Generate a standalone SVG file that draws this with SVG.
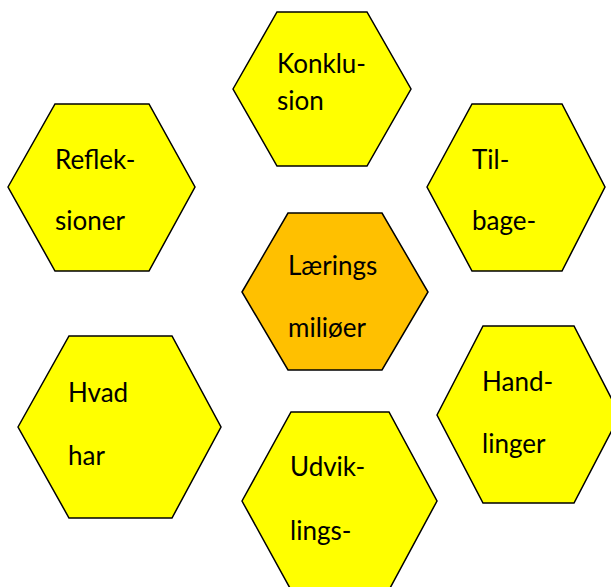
<svg xmlns="http://www.w3.org/2000/svg" width="611" height="587" viewBox="0 0 611 587">
<style>
.hex{stroke:#000;stroke-width:1.5;stroke-linejoin:miter}
.y{fill:#FFFF00}
.o{fill:#FFC000}
text{font-family:Lato,"Liberation Sans",sans-serif;font-size:26px;fill:#000}
</style>
<rect width="611" height="587" fill="#fff"/>
<g id="connectors"></g>
<g id="konklusion">
<polygon class="hex y" points="233,89 277,12 367,12 411,89 367,166 277,166"/>
<text x="277" y="73">Konklu-</text>
<text x="277" y="110">sion</text>
</g>
<g id="refleksioner">
<polygon class="hex y" points="8,187 55,104 149,104 195,187 149,271 55,271"/>
<text x="55" y="169">Reflek-</text>
<text x="55" y="230">sioner</text>
</g>
<g id="tilbage">
<polygon class="hex y" points="427,187 472,104 562,104 605,187 562,271 472,271"/>
<text x="472" y="169">Til-</text>
<text x="472" y="230">bage-</text>
</g>
<g id="laerings">
<polygon class="hex o" points="242,292 288,213 382,213 428,292 382,370 288,370"/>
<text x="288" y="275">Lærings</text>
<text x="288" y="337">miliøer</text>
</g>
<g id="hvadhar">
<polygon class="hex y" points="18,427 69,336 172,336 221,427 172,518 69,518"/>
<text x="68" y="402">Hvad</text>
<text x="68" y="465">har</text>
</g>
<g id="handlinger">
<polygon class="hex y" points="437,415 483,326 574,326 620,415 574,503 483,503"/>
<text x="482" y="391">Hand-</text>
<text x="482" y="453">linger</text>
</g>
<g id="udviklings">
<polygon class="hex y" points="242,501 291,412 389,412 437,501 389,590 291,590"/>
<text x="290" y="476">Udvik-</text>
<text x="290" y="540">lings-</text>
</g>
</svg>
